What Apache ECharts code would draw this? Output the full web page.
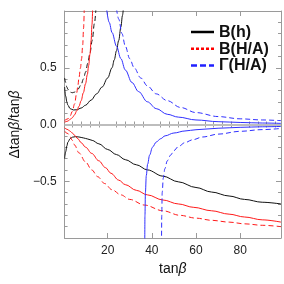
<!DOCTYPE html>
<html><head><meta charset="utf-8">
<script src="https://cdn.jsdelivr.net/npm/echarts@6/dist/echarts.min.js"></script>
<style>html,body{margin:0;padding:0;background:#fff}#c{width:284px;height:284px}</style>
</head><body><div id="c"></div>
<script>
// ---- data (x = tanβ, y = Δtanβ/tanβ) ----
const xMajorTicks = [20, 40, 60, 80];
const xMinorTicks = [4, 8, 12, 16, 24, 28, 32, 36, 44, 48, 52, 56, 64, 68, 72, 76, 84, 88, 92, 96];
const legendNames = ['B(h)', 'B(H/A)', 'Γ(H/A)'];

const bhSolidUpper = [[0.5,0.33],[1,0.25],[1.5,0.2],[2,0.17],[3,0.14],[4.5,0.128],[6,0.13],[8,0.145],[10,0.17],[12.5,0.215],[15,0.27],[17.5,0.33],[20,0.41],[22,0.5],[23,0.57],[24,0.65],[25,0.74],[26,0.86],[26.7,0.96],[27.1,1.02]];
const bhDashUpper = [[0.5,0.41],[1,0.37],[1.5,0.33],[2,0.31],[3,0.285],[4,0.28],[5,0.285],[6.5,0.31],[8,0.35],[9,0.4],[10,0.46],[11,0.54],[12,0.63],[13,0.74],[14,0.89],[14.7,1.02]];
const bhSolidLower = [[0.5,-0.3],[1,-0.24],[1.5,-0.19],[2,-0.155],[3,-0.125],[4,-0.112],[5.5,-0.107],[7,-0.11],[9,-0.118],[11,-0.128],[13,-0.14],[16,-0.17],[20,-0.22],[24,-0.265],[28,-0.31],[33,-0.355],[38,-0.4],[45,-0.455],[52,-0.505],[60,-0.555],[67,-0.595],[75,-0.63],[82,-0.66],[90,-0.685],[98.5,-0.7]];

const bhaSolidUpper = [[0.5,0.02],[2,0.03],[3,0.045],[4,0.06],[5,0.085],[6,0.12],[7,0.16],[8,0.21],[9,0.28],[10,0.36],[10.8,0.44],[11.4,0.52],[12,0.62],[12.5,0.74],[12.9,0.88],[13.2,1.02]];
const bhaDashUpper = [[0.5,0.035],[2,0.05],[3,0.075],[4,0.115],[5,0.18],[6,0.28],[6.5,0.34],[7,0.41],[7.7,0.5],[8.2,0.58],[8.7,0.7],[9.1,0.85],[9.4,1.02]];
const bhaSolidLower = [[0.5,-0.03],[2,-0.045],[3,-0.06],[4,-0.075],[5,-0.095],[6.5,-0.125],[8,-0.16],[10,-0.2],[12.8,-0.255],[16,-0.32],[19,-0.38],[21.5,-0.43],[25,-0.49],[28,-0.53],[33,-0.58],[38,-0.62],[45,-0.665],[52,-0.7],[59,-0.73],[67,-0.76],[75,-0.79],[82,-0.815],[90,-0.84],[98.5,-0.86]];
const bhaDashLower = [[0.5,-0.06],[2,-0.08],[3,-0.11],[4,-0.14],[5,-0.18],[7,-0.25],[10,-0.33],[12.8,-0.4],[15.5,-0.46],[18.6,-0.52],[22,-0.575],[26,-0.62],[30,-0.66],[36.7,-0.71],[45,-0.76],[52.7,-0.8],[60,-0.825],[67,-0.844],[75,-0.86],[82,-0.875],[90,-0.888],[98.5,-0.9]];

const gamSolidUpper = [[19.5,1.02],[20.7,0.9],[22,0.81],[24,0.69],[26,0.58],[28,0.48],[31,0.37],[34,0.29],[38,0.2],[42,0.14],[47,0.09],[52,0.065],[60,0.04],[70,0.025],[80,0.018],[90,0.013],[98.5,0.01]];
const gamDashUpper = [[24.0,1.02],[25,0.93],[26.5,0.8],[28,0.69],[30,0.58],[32,0.5],[35,0.41],[38,0.34],[42,0.27],[47,0.21],[53,0.15],[60,0.105],[70,0.07],[80,0.05],[90,0.04],[98.5,0.034]];
const gamSolidLower = [[36.8,-1.05],[36.9,-0.8],[37.1,-0.6],[37.5,-0.45],[38.1,-0.35],[39,-0.27],[40.3,-0.2],[42,-0.155],[44,-0.125],[46,-0.1],[50,-0.075],[55,-0.057],[60,-0.046],[70,-0.033],[80,-0.025],[90,-0.02],[98.5,-0.017]];
const gamDashLower = [[44.4,-1.05],[44.5,-0.8],[44.7,-0.6],[45.2,-0.47],[45.9,-0.39],[47,-0.32],[48.5,-0.27],[50,-0.23],[52,-0.195],[55,-0.16],[58.4,-0.135],[63,-0.11],[70,-0.085],[80,-0.06],[90,-0.045],[98.5,-0.035]];

// ---- chart ----
const BLACK = '#111', RED = '#ff1a1a', BLUE = '#3030ff', FRAME = '#9a9a9a';
const font = 'Liberation Sans, Arial, sans-serif';
function curve(data, color, dashed) {
  return { type: 'line', data: data, symbol: 'none', smooth: 0.35, smoothMonotone: 'x', silent: true, z: 3,
    lineStyle: { color: color, width: 1, type: dashed ? [5, 3] : 'solid' } };
}
const legendStyles = [
  { color: '#000', dash: null },
  { color: '#ff0000', dash: [3, 2] },
  { color: '#2020ff', dash: [6, 3] }
];
const legendGraphics = [];
legendNames.forEach(function (name, i) {
  const y = 32 + i * 16.7;
  legendGraphics.push({ type: 'line', shape: { x1: 191, y1: y, x2: 214, y2: y },
    style: { stroke: legendStyles[i].color, lineWidth: 2.5, lineDash: legendStyles[i].dash }, z: 10 });
  legendGraphics.push({ type: 'text', x: 219, y: y + 0.5, z: 10,
    style: { text: name, font: 'bold 16px Liberation Sans, Arial, sans-serif', fill: '#111', verticalAlign: 'middle', align: 'left' } });
});
const baseX = { type: 'value', min: 0.5, max: 98.5, gridIndex: 0, splitLine: { show: false } };
const chart = echarts.init(document.getElementById('c'), null, { renderer: 'canvas' });
chart.setOption({
  animation: false,
  backgroundColor: '#fff',
  grid: { left: 56, right: 3, top: 11, bottom: 46 },
  graphic: legendGraphics,
  xAxis: [
    Object.assign({}, baseX, { position: 'bottom',
      name: '{t|tan}{b|β}', nameLocation: 'middle', nameGap: 14,
      nameTextStyle: { rich: { t: { fontFamily: font, fontSize: 14, color: '#111' }, b: { fontFamily: font, fontSize: 14, fontStyle: 'italic', color: '#111' } } },
      axisLine: { show: true, onZero: false, lineStyle: { color: FRAME, width: 1 } },
      axisTick: { show: true, inside: true, length: 5, customValues: xMajorTicks, lineStyle: { color: FRAME } },
      axisLabel: { show: true, customValues: xMajorTicks, margin: 7, fontFamily: font, fontSize: 12, color: '#222' } }),
    Object.assign({}, baseX, { position: 'bottom',
      axisLine: { show: false }, axisLabel: { show: false },
      axisTick: { show: true, inside: true, length: 3, customValues: xMinorTicks, lineStyle: { color: FRAME } } }),
    Object.assign({}, baseX, { position: 'top',
      axisLine: { show: true, onZero: false, lineStyle: { color: FRAME, width: 1 } }, axisLabel: { show: false },
      axisTick: { show: true, inside: true, length: 5, customValues: xMajorTicks, lineStyle: { color: FRAME } } }),
    Object.assign({}, baseX, { position: 'top',
      axisLine: { show: false }, axisLabel: { show: false },
      axisTick: { show: true, inside: true, length: 3, customValues: xMinorTicks, lineStyle: { color: FRAME } } })
  ],
  yAxis: [
    { type: 'value', min: -1, max: 1, interval: 0.5, position: 'left',
      name: '{d|Δtan}{b|β}{d|/tan}{b|β}', nameLocation: 'middle', nameGap: 35, nameRotate: 90,
      nameTextStyle: { rich: { d: { fontFamily: font, fontSize: 14, color: '#111' }, b: { fontFamily: font, fontSize: 14, fontStyle: 'italic', color: '#111' } } },
      splitLine: { show: false },
      axisLine: { show: true, onZero: false, lineStyle: { color: FRAME, width: 1 } },
      axisTick: { show: true, inside: true, length: 5, lineStyle: { color: FRAME } },
      minorTick: { show: true, splitNumber: 5, length: 3, lineStyle: { color: FRAME } },
      axisLabel: { margin: 8, fontFamily: font, fontSize: 12, color: '#222',
        formatter: function (v) { if (Math.abs(v) > 0.99) return ''; if (v === 0) return '0.0'; return (v < 0 ? '\u2212' : '') + Math.abs(v).toFixed(1); } } },
    { type: 'value', min: -1, max: 1, interval: 0.5, position: 'right',
      splitLine: { show: false }, axisLabel: { show: false },
      axisLine: { show: true, onZero: false, lineStyle: { color: FRAME, width: 1 } },
      axisTick: { show: true, inside: true, length: 5, lineStyle: { color: FRAME } },
      minorTick: { show: true, splitNumber: 5, length: 3, lineStyle: { color: FRAME } } }
  ],
  series: [
    { type: 'line', data: [], silent: true, z: 1,
      markLine: { silent: true, symbol: 'none', label: { show: false }, data: [{ yAxis: 0 }],
        lineStyle: { color: '#bdbdbd', width: 2, type: 'solid' } } },
    curve(bhSolidUpper, BLACK, false),
    curve(bhDashUpper, BLACK, true),
    curve(bhSolidLower, BLACK, false),
    curve(bhaSolidUpper, RED, false),
    curve(bhaDashUpper, RED, true),
    curve(bhaSolidLower, RED, false),
    curve(bhaDashLower, RED, true),
    curve(gamSolidUpper, BLUE, false),
    curve(gamDashUpper, BLUE, true),
    curve(gamSolidLower, BLUE, false),
    curve(gamDashLower, BLUE, true)
  ]
});
</script></body></html>
